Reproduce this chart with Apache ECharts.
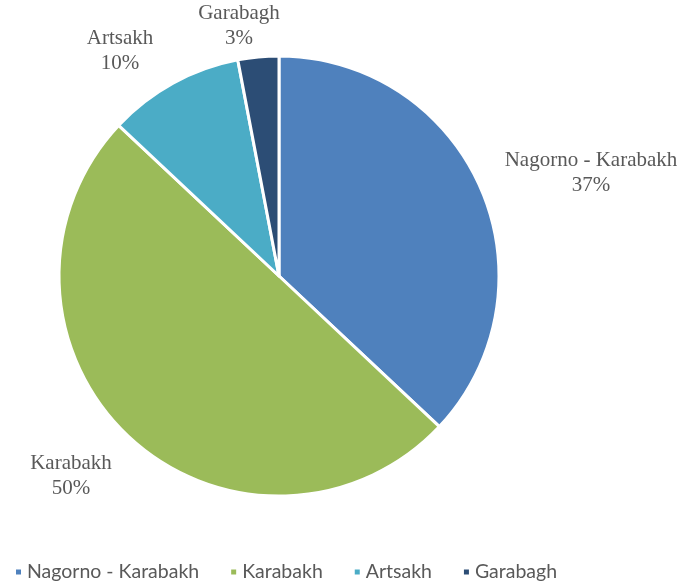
<!DOCTYPE html>
<html><head><meta charset="utf-8">
<script src="https://cdn.jsdelivr.net/npm/echarts@6/dist/echarts.min.js"></script>
<style>html,body{margin:0;padding:0;background:#fff}#c{width:681px;height:588px}</style>
</head><body><div id="c"></div>
<script>
const categories = ["Nagorno - Karabakh", "Karabakh", "Artsakh", "Garabagh"];
const values = [37, 50, 10, 3];
const colors = ["#4F81BD", "#9BBB59", "#4BACC6", "#2C4D75"];

const labelPos = [[591, 173], [71, 476], [120, 51], [239, 26]];

const chart = echarts.init(document.getElementById('c'), null, {renderer: 'canvas'});
chart.setOption({
  animation: false,
  color: colors,
  legend: {
    bottom: 1, left: 9,
    itemWidth: 7, itemHeight: 7, itemGap: 30,
    icon: 'rect',
    textStyle: {fontFamily: 'Lato', fontSize: 19.5, color: '#595959'},
    data: categories
  },
  series: [{
    type: 'pie',
    center: [279, 276],
    radius: 220,
    startAngle: 90,
    clockwise: true,
    itemStyle: {borderColor: '#fff', borderWidth: 3},
    label: {
      show: true, position: 'inside',
      fontFamily: 'Liberation Serif', fontSize: 21, color: '#595959',
      lineHeight: 25, align: 'center', overflow: 'none',
      formatter: p => p.name + '\n' + p.value + '%'
    },
    labelLine: {show: false},
    labelLayout: p => ({x: labelPos[p.dataIndex][0], y: labelPos[p.dataIndex][1], align: 'center', verticalAlign: 'middle'}),
    data: categories.map((n, i) => ({name: n, value: values[i]}))
  }]
});
</script></body></html>
